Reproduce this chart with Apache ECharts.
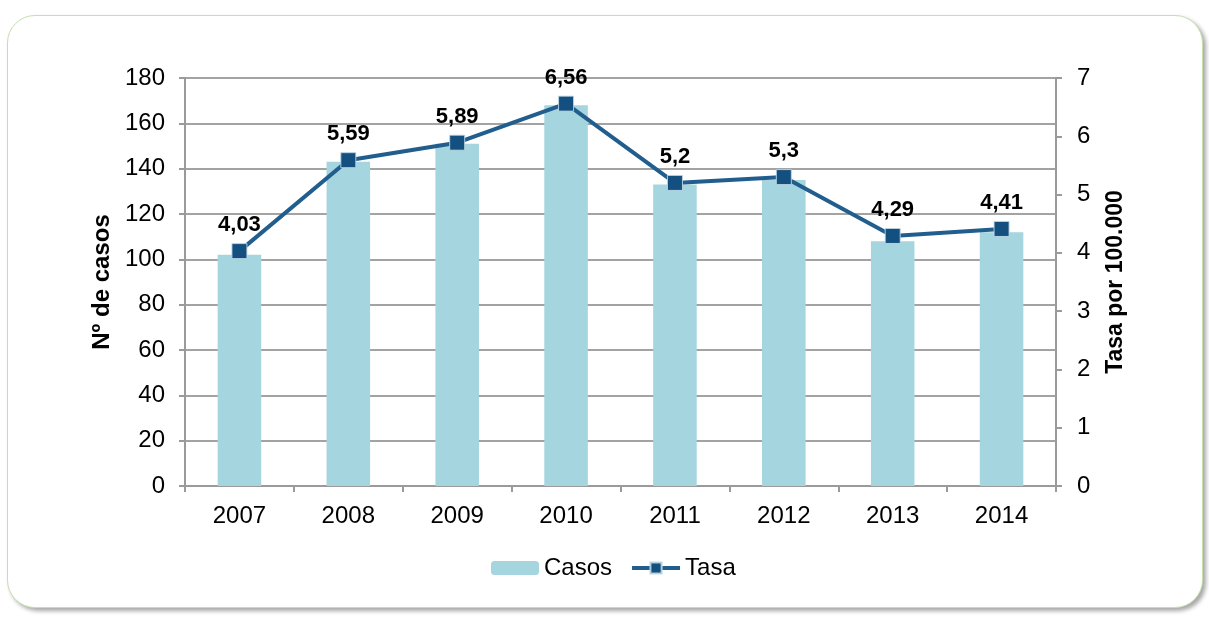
<!DOCTYPE html>
<html>
<head>
<meta charset="utf-8">
<script src="https://cdn.jsdelivr.net/npm/echarts@6/dist/echarts.min.js"></script>
<style>
  html, body { margin: 0; padding: 0; background: #fff; }
  #frame {
    position: absolute; left: 7px; top: 15px; width: 1194px; height: 591px;
    border: 1px solid #c6dfab; border-radius: 28px;
    box-shadow: 3px 3px 4px rgba(0, 0, 0, 0.35);
    background: #fff;
  }
  #chart { position: absolute; left: 0; top: 0; width: 1209px; height: 617px; }
</style>
</head>
<body>
<div id="frame"></div>
<div id="chart"></div>
<script>
var years = ['2007', '2008', '2009', '2010', '2011', '2012', '2013', '2014']
var casos = [102, 143, 151, 168, 133, 135, 108, 112]
var tasa = [4.03, 5.59, 5.89, 6.56, 5.2, 5.3, 4.29, 4.41]

var chart = echarts.init(document.getElementById('chart'), null, { renderer: 'canvas' })

var axisGray = '#9a9a9a'
var font = 'Arial, "Liberation Sans", sans-serif'

chart.setOption({
  animation: false,
  textStyle: { fontFamily: font },
  grid: {
    left: 185,
    right: 153,
    top: 78,
    bottom: 131
  },
  legend: {
    bottom: 32,
    left: 486,
    itemWidth: 48,
    itemHeight: 14,
    itemGap: 18,
    itemTextGap: 5,
    textStyle: { fontSize: 24, color: '#000', fontFamily: font },
    data: [
      { name: 'Casos' },
      { name: 'Tasa', lineStyle: { width: 4 } }
    ]
  },
  xAxis: {
    type: 'category',
    data: years,
    axisLine: { lineStyle: { color: axisGray, width: 2 } },
    axisTick: { show: true, length: 6, lineStyle: { color: axisGray, width: 2 } },
    axisLabel: { fontSize: 24, color: '#000', margin: 18 }
  },
  yAxis: [
    {
      type: 'value',
      min: 0,
      max: 180,
      interval: 20,
      name: 'Nº de casos',
      nameLocation: 'middle',
      nameGap: 69,
      nameTextStyle: { fontSize: 24, fontWeight: 'bold', color: '#000' },
      axisLine: { show: true, lineStyle: { color: axisGray, width: 2 } },
      axisTick: { show: true, length: 6, lineStyle: { color: axisGray, width: 2 } },
      axisLabel: { fontSize: 24, color: '#000', margin: 20 },
      splitLine: { lineStyle: { color: '#a3a3a3', width: 2 } }
    },
    {
      type: 'value',
      min: 0,
      max: 7,
      interval: 1,
      position: 'right',
      name: 'Tasa por 100.000',
      nameLocation: 'middle',
      nameGap: 48,
      nameRotate: 90,
      nameTextStyle: { fontSize: 23, fontWeight: 'bold', color: '#000' },
      axisLine: { show: true, lineStyle: { color: axisGray, width: 2 } },
      axisTick: { show: true, length: 6, lineStyle: { color: axisGray, width: 2 } },
      axisLabel: { fontSize: 24, color: '#000', margin: 21 },
      splitLine: { show: false }
    }
  ],
  series: [
    {
      name: 'Casos',
      type: 'bar',
      data: casos,
      barWidth: '40%',
      itemStyle: { color: '#a5d5df' }
    },
    {
      name: 'Tasa',
      type: 'line',
      yAxisIndex: 1,
      data: tasa,
      symbol: 'rect',
      symbolSize: 15,
      lineStyle: { color: '#215e8e', width: 4 },
      itemStyle: { color: '#14507f', borderColor: 'rgba(190,215,230,0.9)', borderWidth: 1 },
      label: {
        show: true,
        position: 'top',
        distance: 7,
        fontSize: 22,
        fontWeight: 'bold',
        color: '#000',
        formatter: function (p) {
          return String(p.value).replace('.', ',')
        }
      }
    }
  ]
})
</script>
</body>
</html>
